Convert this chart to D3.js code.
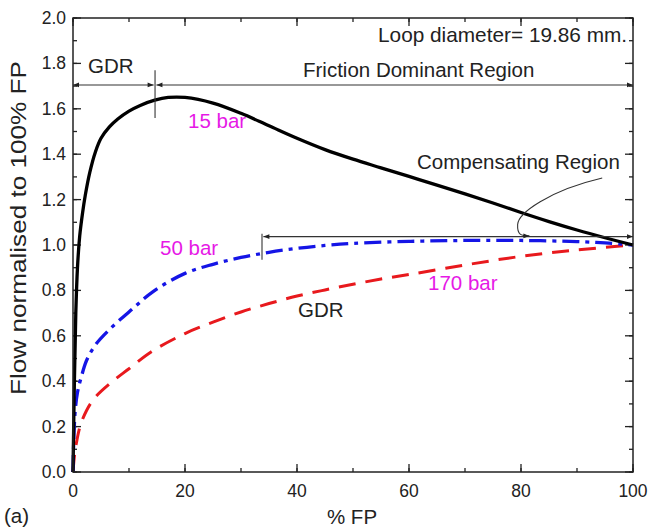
<!DOCTYPE html>
<html><head><meta charset="utf-8">
<script src="https://cdn.jsdelivr.net/npm/d3@7"></script>
<style>
body{margin:0;background:#fff;}
text{font-family:"Liberation Sans",Arial,Helvetica,sans-serif;}
</style></head>
<body><svg id="c" width="651" height="528"></svg>
<script>
// ---- data ----
const pct15  = [0,0.25,0.5,0.8,1.2,1.7,2.2,3,4,5,6.5,8,10,12,14.6,17,20,25,30,35,40,45,50,55,60,65,70,75,80,85,90,95,100];
const flow15 = [0,0.4,0.7,0.9,1.04,1.14,1.22,1.32,1.41,1.47,1.52,1.555,1.59,1.615,1.638,1.65,1.65,1.625,1.58,1.525,1.47,1.42,1.378,1.34,1.302,1.264,1.225,1.185,1.143,1.103,1.066,1.032,1.0];
const pct50  = [0,0.15,0.4,0.8,1.5,2.4,4,6.6,10.7,14.3,20,25,30,35,40,45,50,60,70,80,90,95,100];
const flow50 = [0,0.15,0.27,0.35,0.42,0.49,0.56,0.63,0.72,0.795,0.875,0.915,0.945,0.968,0.985,0.998,1.007,1.016,1.02,1.02,1.015,1.009,1.0];
const pct170  = [0,0.3,0.7,1.25,2.4,4,6.6,10,14,20,25,30,35,40,45,50,55,60,70,80,90,100];
const flow170 = [0,0.08,0.14,0.2,0.27,0.33,0.39,0.455,0.53,0.61,0.66,0.705,0.742,0.775,0.802,0.827,0.85,0.87,0.912,0.95,0.978,1.0];
const seriesNames = ["15 bar","50 bar","170 bar"];
const xTicks = [0,20,40,60,80,100];
const yTicks = [0,0.2,0.4,0.6,0.8,1.0,1.2,1.4,1.6,1.8,2.0];

const svg = d3.select("#c");
const L=73,R=633,T=18,B=472;
const x = d3.scaleLinear().domain([0,100]).range([L,R]);
const y = d3.scaleLinear().domain([0,2]).range([B,T]);

// arrow marker
const defs = svg.append("defs");
defs.append("marker").attr("id","ar").attr("viewBox","0 0 10 10").attr("refX",10).attr("refY",5)
  .attr("markerWidth",7).attr("markerHeight",6).attr("markerUnits","userSpaceOnUse").attr("orient","auto-start-reverse")
  .append("path").attr("d","M0,1 L10,5 L0,9 Z").attr("fill","#222");

// axes
const minorX = d3.range(0,101,10), minorY = d3.range(0,2.01,0.1);
function tickLines(g, vals, isX, len, side){
  vals.forEach(v=>{
    if(isX){
      const px=x(v);
      if(side==="bottom") g.append("line").attr("x1",px).attr("x2",px).attr("y1",B).attr("y2",B-len);
      else g.append("line").attr("x1",px).attr("x2",px).attr("y1",T).attr("y2",T+len);
    } else {
      const py=y(v);
      if(side==="left") g.append("line").attr("y1",py).attr("y2",py).attr("x1",L).attr("x2",L+len);
      else g.append("line").attr("y1",py).attr("y2",py).attr("x1",R).attr("x2",R-len);
    }
  });
}
const tg = svg.append("g").attr("stroke","#222").attr("stroke-width",1.3);
tickLines(tg,minorX,true,4,"bottom");tickLines(tg,xTicks,true,8,"bottom");
tickLines(tg,minorX,true,4,"top");tickLines(tg,xTicks,true,8,"top");
tickLines(tg,minorY,false,4,"left");tickLines(tg,yTicks,false,8,"left");
tickLines(tg,minorY,false,4,"right");tickLines(tg,yTicks,false,8,"right");

svg.append("g").selectAll("text").data(xTicks).join("text")
  .attr("x",d=>x(d)).attr("y",497).attr("text-anchor","middle").attr("font-size",17.5).attr("fill","#222").text(d=>d);
svg.append("g").selectAll("text").data(yTicks).join("text")
  .attr("x",66).attr("y",d=>y(d)+6).attr("text-anchor","end").attr("font-size",17.5).attr("fill","#222").text(d=>d.toFixed(1));

// lines
const line = d3.line().x(d=>x(d[0])).y(d=>y(d[1])).curve(d3.curveCatmullRom.alpha(0.5));
const z = (a,b)=>a.map((v,i)=>[v,b[i]]);
svg.append("path").attr("d",line(z(pct170,flow170))).attr("fill","none").attr("stroke","#e8191d").attr("stroke-width",3).attr("stroke-dasharray","17,10");
svg.append("path").attr("d",line(z(pct50,flow50))).attr("fill","none").attr("stroke","#1515e6").attr("stroke-width",3.3).attr("stroke-dasharray","17,6,4,6");
svg.append("path").attr("d",line(z(pct15,flow15))).attr("fill","none").attr("stroke","#000").attr("stroke-width",3.3);

// frame
svg.append("rect").attr("x",L).attr("y",T).attr("width",R-L).attr("height",B-T).attr("fill","none").attr("stroke","#222").attr("stroke-width",1.5);

// annotations (data units)
const ann = svg.append("g").attr("stroke","#333").attr("stroke-width",1.1).attr("fill","none");
function seg(x0,x1,v){ann.append("line").attr("x1",x(x0)).attr("x2",x(x1)).attr("y1",y(v)).attr("y2",y(v)).attr("marker-start","url(#ar)").attr("marker-end","url(#ar)");}
seg(0,14.4,1.705); seg(14.9,100,1.705);
ann.append("line").attr("x1",x(14.65)).attr("x2",x(14.65)).attr("y1",y(1.77)).attr("y2",y(1.56));
seg(34.0,100,1.037);
ann.append("line").attr("x1",x(33.75)).attr("x2",x(33.75)).attr("y1",y(1.05)).attr("y2",y(0.935));
const cp = [[94.5,1.295],[85,1.24],[79.5,1.14],[79.4,1.09],[79.3,1.045],[80,1.04],[81.5,1.04]];
ann.append("path").attr("d","M"+x(cp[0][0])+","+y(cp[0][1])+" C"+x(cp[1][0])+","+y(cp[1][1])+" "+x(cp[2][0])+","+y(cp[2][1])+" "+x(cp[3][0])+","+y(cp[3][1])+" C"+x(cp[4][0])+","+y(cp[4][1])+" "+x(cp[5][0])+","+y(cp[5][1])+" "+x(cp[6][0])+","+y(cp[6][1])).attr("marker-end","url(#ar)");

// texts
function txt(s,px,py,opt={}){
  const t=svg.append("text").attr("x",px).attr("y",py).attr("font-size",opt.size||20.5).attr("fill",opt.fill||"#222").text(s);
  if(opt.anchor) t.attr("text-anchor",opt.anchor);
  return t;
}
txt("Loop diameter= 19.86 mm.",378,42,{size:20.8});
txt("GDR",88,73);
txt("Friction Dominant Region",303,77);
txt("Compensating Region",417,169);
txt(seriesNames[0],188,128,{fill:"#e619e6"});
txt(seriesNames[1],160,255,{fill:"#e619e6"});
txt(seriesNames[2],428,290,{fill:"#e619e6"});
txt("GDR",298,317);
txt("% FP",352,524,{anchor:"middle"});
txt("(a)",4,523);
svg.append("text").attr("transform","translate(26,228) rotate(-90)").attr("text-anchor","middle")
  .attr("font-size",21.5).attr("fill","#222").attr("textLength",334).attr("lengthAdjust","spacingAndGlyphs").text("Flow normalised to 100% FP");
</script></body></html>
